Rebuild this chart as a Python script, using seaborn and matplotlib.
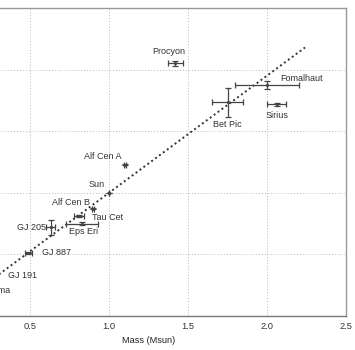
import seaborn as sns
import matplotlib.pyplot as plt
import pandas as pd

sns.set_theme(style="whitegrid")
plt.rcParams['font.family'] = ['Liberation Sans', 'DejaVu Sans']

stars = ["Proxima", "GJ 191", "GJ 887", "GJ 205", "Eps Eri", "Tau Cet", "Alf Cen B",
         "Sun", "Alf Cen A", "Procyon", "Bet Pic", "Fomalhaut", "Sirius"]
mass = [0.12, 0.28, 0.49, 0.63, 0.83, 0.81, 0.90, 1.00, 1.10, 1.42, 1.75, 2.00, 2.06]
mass_err = [0.01, 0.01, 0.025, 0.03, 0.10, 0.03, 0.006, 0.0, 0.007, 0.05, 0.10, 0.20, 0.06]
radius = [0.15, 0.30, 0.51, 0.72, 0.75, 0.81, 0.87, 1.00, 1.23, 2.05, 1.735, 1.875, 1.72]
radius_err = [0.005, 0.01, 0.01, 0.06, 0.01, 0.01, 0.005, 0.0, 0.005, 0.02, 0.12, 0.035, 0.012]

# straight-line relation drawn through the points
fit_mass = [0.10, 2.24]
fit_radius = [0.145, 2.18]

df = pd.DataFrame({"star": stars, "mass": mass, "mass_err": mass_err,
                   "radius": radius, "radius_err": radius_err})

# label offsets in pixels (dx, dy, ha)
label_pos = {
    "Proxima": (7, 7, "left"),
    "GJ 191": (13, 4, "left"),
    "GJ 887": (14, 1, "left"),
    "GJ 205": (-5, 0, "right"),
    "Eps Eri": (1, -8, "center"),
    "Tau Cet": (13, -1, "left"),
    "Alf Cen B": (-3, 6, "right"),
    "Sun": (-12, 8, "center"),
    "Alf Cen A": (-22, 8, "center"),
    "Procyon": (-7, 12, "center"),
    "Bet Pic": (0, -22, "center"),
    "Fomalhaut": (13, 7, "left"),
    "Sirius": (0, -11, "center"),
}

dark = "#444444"
fig = plt.figure(figsize=(3.55, 3.5), dpi=100)
ax = fig.add_axes([-0.138, 0.097, 1.113, 0.88])

sns.lineplot(x=fit_mass, y=fit_radius, ax=ax, color="#333333", linestyle=(0, (1, 1.5)), linewidth=1.4)
ax.errorbar(df["mass"], df["radius"], xerr=df["mass_err"], yerr=df["radius_err"],
            fmt="none", ecolor=dark, elinewidth=0.9, capsize=2, capthick=0.9)
sns.scatterplot(data=df, x="mass", y="radius", ax=ax, color=dark, s=4, edgecolor=dark, linewidth=0.3)

for _, row in df.iterrows():
    dx, dy, ha = label_pos[row["star"]]
    ax.annotate(row["star"], (row["mass"], row["radius"]), xytext=(dx, dy),
                textcoords="offset pixels", ha=ha, va="center", fontsize=6.5, color="#333333")

ax.set_xlim(0, 2.5)
ax.set_ylim(0, 2.5)
ax.set_xticks([0, 0.5, 1.0, 1.5, 2.0, 2.5])
ax.set_yticks([0, 0.5, 1.0, 1.5, 2.0, 2.5])
ax.set_xlabel("Mass (Msun)", fontsize=6.6, color="#222222", labelpad=4)
ax.set_ylabel("Radius (Rsun)", fontsize=6.6)
ax.tick_params(axis="both", labelsize=6.7, labelcolor="#333333", direction="in",
               length=3, color="#999999", pad=4)
ax.grid(True, linestyle=(0, (1, 2)), color="#bbbbbb", linewidth=0.7)
for s in ax.spines.values():
    s.set_color("#999999")
    s.set_linewidth(1.0)
ax.spines["bottom"].set_color("#777777")

fig.savefig("out.png", dpi=100)
